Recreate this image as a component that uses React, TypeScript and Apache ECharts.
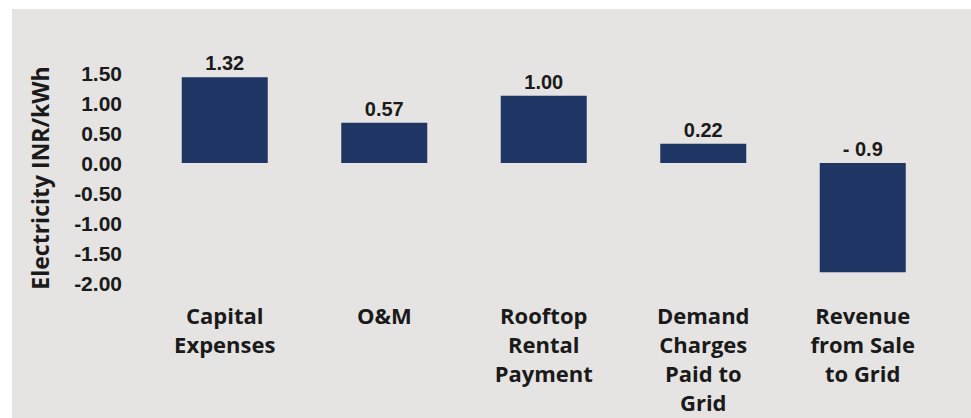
import React, { useEffect, useRef } from "react";
import * as echarts from "echarts";

const categories = [
  "Capital\nExpenses",
  "O&M",
  "Rooftop\nRental\nPayment",
  "Demand\nCharges\nPaid to\nGrid",
  "Revenue\nfrom Sale\nto Grid",
];
const barValues = [1.43, 0.67, 1.12, 0.32, -1.82];
const barLabels = ["1.32", "0.57", "1.00", "0.22", "- 0.9"];
const yTickMin = -2;
const yTickMax = 1.5;
const yTickStep = 0.5;
const yAxisTitle = "Electricity INR/kWh";

export default function App() {
  const ref = useRef<HTMLDivElement>(null);
  useEffect(() => {
    if (!ref.current) return;
    const chart = echarts.init(ref.current, undefined, { renderer: "svg" });
    chart.setOption({
      animation: false,
      backgroundColor: "#ffffff",
      graphic: [
        {
          type: "rect",
          silent: true,
          z: -10,
          shape: { x: 12, y: 9, width: 959, height: 409 },
          style: { fill: "#e5e4e2" },
        },
      ],
      grid: { left: 145, right: 28.5, top: 73, bottom: 135 },
      xAxis: {
        type: "category",
        data: categories,
        position: "bottom",
        axisLine: { show: false, onZero: false },
        axisTick: { show: false },
        splitLine: { show: false },
        axisLabel: {
          interval: 0,
          margin: 17,
          lineHeight: 29,
          fontFamily: "Open Sans",
          fontWeight: "bold",
          fontSize: 22,
          color: "#1a1a1a",
        },
      },
      yAxis: {
        type: "value",
        min: yTickMin,
        max: yTickMax,
        interval: yTickStep,
        name: yAxisTitle,
        nameLocation: "middle",
        nameGap: 94,
        nameTextStyle: {
          fontFamily: "Open Sans",
          fontWeight: "bold",
          fontSize: 23,
          color: "#1a1a1a",
        },
        axisLine: { show: false },
        axisTick: { show: false },
        splitLine: { show: false },
        axisLabel: {
          margin: 23,
          fontFamily: "Liberation Sans",
          fontWeight: "bold",
          fontSize: 21,
          color: "#1a1a1a",
          formatter: (v: number) => v.toFixed(2),
        },
      },
      series: [
        {
          type: "bar",
          barWidth: 86,
          z: 2,
          itemStyle: { color: "#1f3563" },
          data: barValues.map((v, i) => ({
            value: v,
            label: {
              show: true,
              position: "top",
              distance: 4,
              formatter: () => barLabels[i],
              fontFamily: "Liberation Sans",
              fontWeight: "bold",
              fontSize: 20,
              color: "#1a1a1a",
            },
          })),
        },
      ],
    });
    return () => chart.dispose();
  }, []);
  return (
    <div
      ref={ref}
      style={{ position: "fixed", left: 0, top: 0, width: 971, height: 418 }}
    />
  );
}
